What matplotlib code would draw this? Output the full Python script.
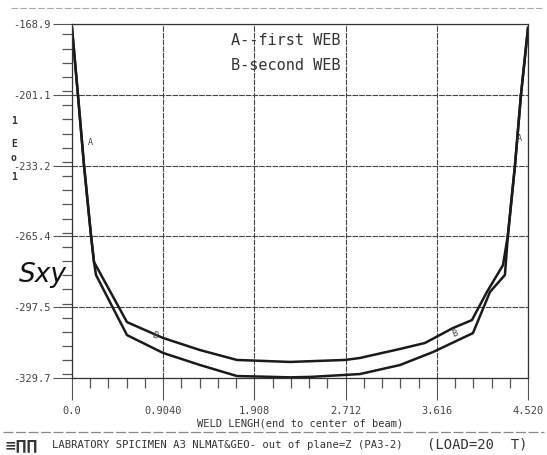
import matplotlib as mpl
mpl.use("Agg")
import matplotlib.pyplot as plt
from matplotlib.ticker import FixedLocator, MultipleLocator

# weld length (m) and Sxy values
x_upper = [0.0, 0.059, 0.119, 0.188, 0.218, 0.545, 0.902, 1.269, 1.635, 2.161,
           2.706, 2.854, 3.251, 3.498, 3.776, 3.964, 4.113, 4.272, 4.321, 4.391,
           4.450, 4.52]
s_upper = [-170.7, -201.1, -233.0, -264.7, -277.0, -304.3, -311.5, -317.0, -321.5, -322.4,
           -321.5, -320.6, -316.5, -313.8, -307.0, -303.4, -290.6, -278.4, -264.7, -233.0,
           -201.1, -170.7]

x_lower = [0.0, 0.059, 0.119, 0.188, 0.218, 0.238, 0.545, 0.902, 1.269, 1.635,
           1.992, 2.161, 2.359, 2.706, 2.854, 3.251, 3.578, 3.974, 4.143, 4.291,
           4.321, 4.391, 4.450, 4.52]
s_lower = [-170.7, -201.1, -233.0, -264.7, -277.0, -282.9, -310.2, -318.3, -323.8, -328.8,
           -329.2, -329.4, -329.2, -328.3, -327.9, -323.8, -317.9, -309.3, -290.6, -282.9,
           -264.7, -233.0, -201.1, -170.7]

x_ticks = [0.0, 0.904, 1.808, 2.712, 3.616, 4.52]
x_ticklabels = ["0.0", "0.9040", "1.908", "2.712", "3.616", "4.520"]
y_ticks = [-168.9, -201.1, -233.2, -265.4, -297.5, -329.7]
y_ticklabels = ["-168.9", "-201.1", "-233.2", "-265.4", "-297.5", "-329.7"]

ink = "#1a1a1a"
mono = "DejaVu Sans Mono"

fig = plt.figure(figsize=(5.47, 4.55), dpi=100)
ax = fig.add_axes([0.1316, 0.1692, 0.8337, 0.7781])

ax.plot(x_upper, s_upper, color=ink, lw=1.8)
ax.plot(x_lower, s_lower, color=ink, lw=1.8)

ax.set_xlim(0, 4.52)
ax.set_ylim(-329.7, -168.9)

ax.xaxis.set_major_locator(FixedLocator(x_ticks))
ax.set_xticklabels(x_ticklabels, family=mono, fontsize=7.5, color="#444")
ax.xaxis.set_minor_locator(MultipleLocator(0.904 / 5))
ax.yaxis.set_major_locator(FixedLocator(y_ticks))
ax.set_yticklabels(y_ticklabels, family=mono, fontsize=7.5, color="#444")
ax.yaxis.set_minor_locator(MultipleLocator(32.16 / 5))
ax.tick_params(which="major", axis="x", length=16, width=0.8, color="#555", pad=4)
ax.tick_params(which="major", axis="y", length=14, width=0.8, color="#555", pad=1)
ax.tick_params(which="minor", length=7, width=0.9, color="#555")

ax.grid(True, which="major", color="#444", lw=0.8, ls=(0, (5, 1)))
for s in ax.spines.values():
    s.set_color("#333")
    s.set_linewidth(0.9)

ax.set_xlabel("WELD LENGH(end to center of beam)", family=mono, fontsize=7.5,
              color="#333", labelpad=2)

# curve labels
ax.text(0.16, -224, "A", fontsize=6, family=mono, color="#444")
ax.text(4.41, -222, "A", fontsize=6, family=mono, color="#444")
ax.text(0.78, -312, "B", fontsize=6.5, family=mono, color="#444", rotation=-20)
ax.text(3.76, -311, "B", fontsize=6.5, family=mono, color="#444", rotation=20)

# legend block
ax.text(1.58, -178.5, "A--first WEB", family=mono, fontsize=11, color="#333")
ax.text(1.58, -190, "B-second WEB", family=mono, fontsize=11, color="#333")

# y-axis label
fig.text(0.035, 0.38, "Sxy", fontsize=19, style="italic", color="#111")
for ch, yy in [("1", 0.735), ("E", 0.683), ("o", 0.652), ("1", 0.61)]:
    fig.text(0.02, yy, ch, fontsize=7, weight="bold", family=mono, color="#333",
             va="center")

# header and footer rules
fig.add_artist(plt.Line2D([0.02, 0.99], [0.982, 0.982], color="#aaa", lw=0.8,
                          ls=(0, (6, 2))))
fig.add_artist(plt.Line2D([0.005, 0.995], [0.05, 0.05], color="#888", lw=0.9,
                          ls=(0, (8, 2))))

# footer
fig.text(0.008, 0.022, "\u2261\u220f\u220f", fontsize=10, weight="bold",
         color="#333", va="center")
fig.text(0.095, 0.022, "LABRATORY SPICIMEN A3 NLMAT&GEO- out of plane=Z (PA3-2)",
         family=mono, fontsize=7.6, color="#333", va="center")
fig.text(0.78, 0.022, "(LOAD=20  T)", family=mono, fontsize=10, color="#333",
         va="center")

fig.savefig("out.png", dpi=100)
